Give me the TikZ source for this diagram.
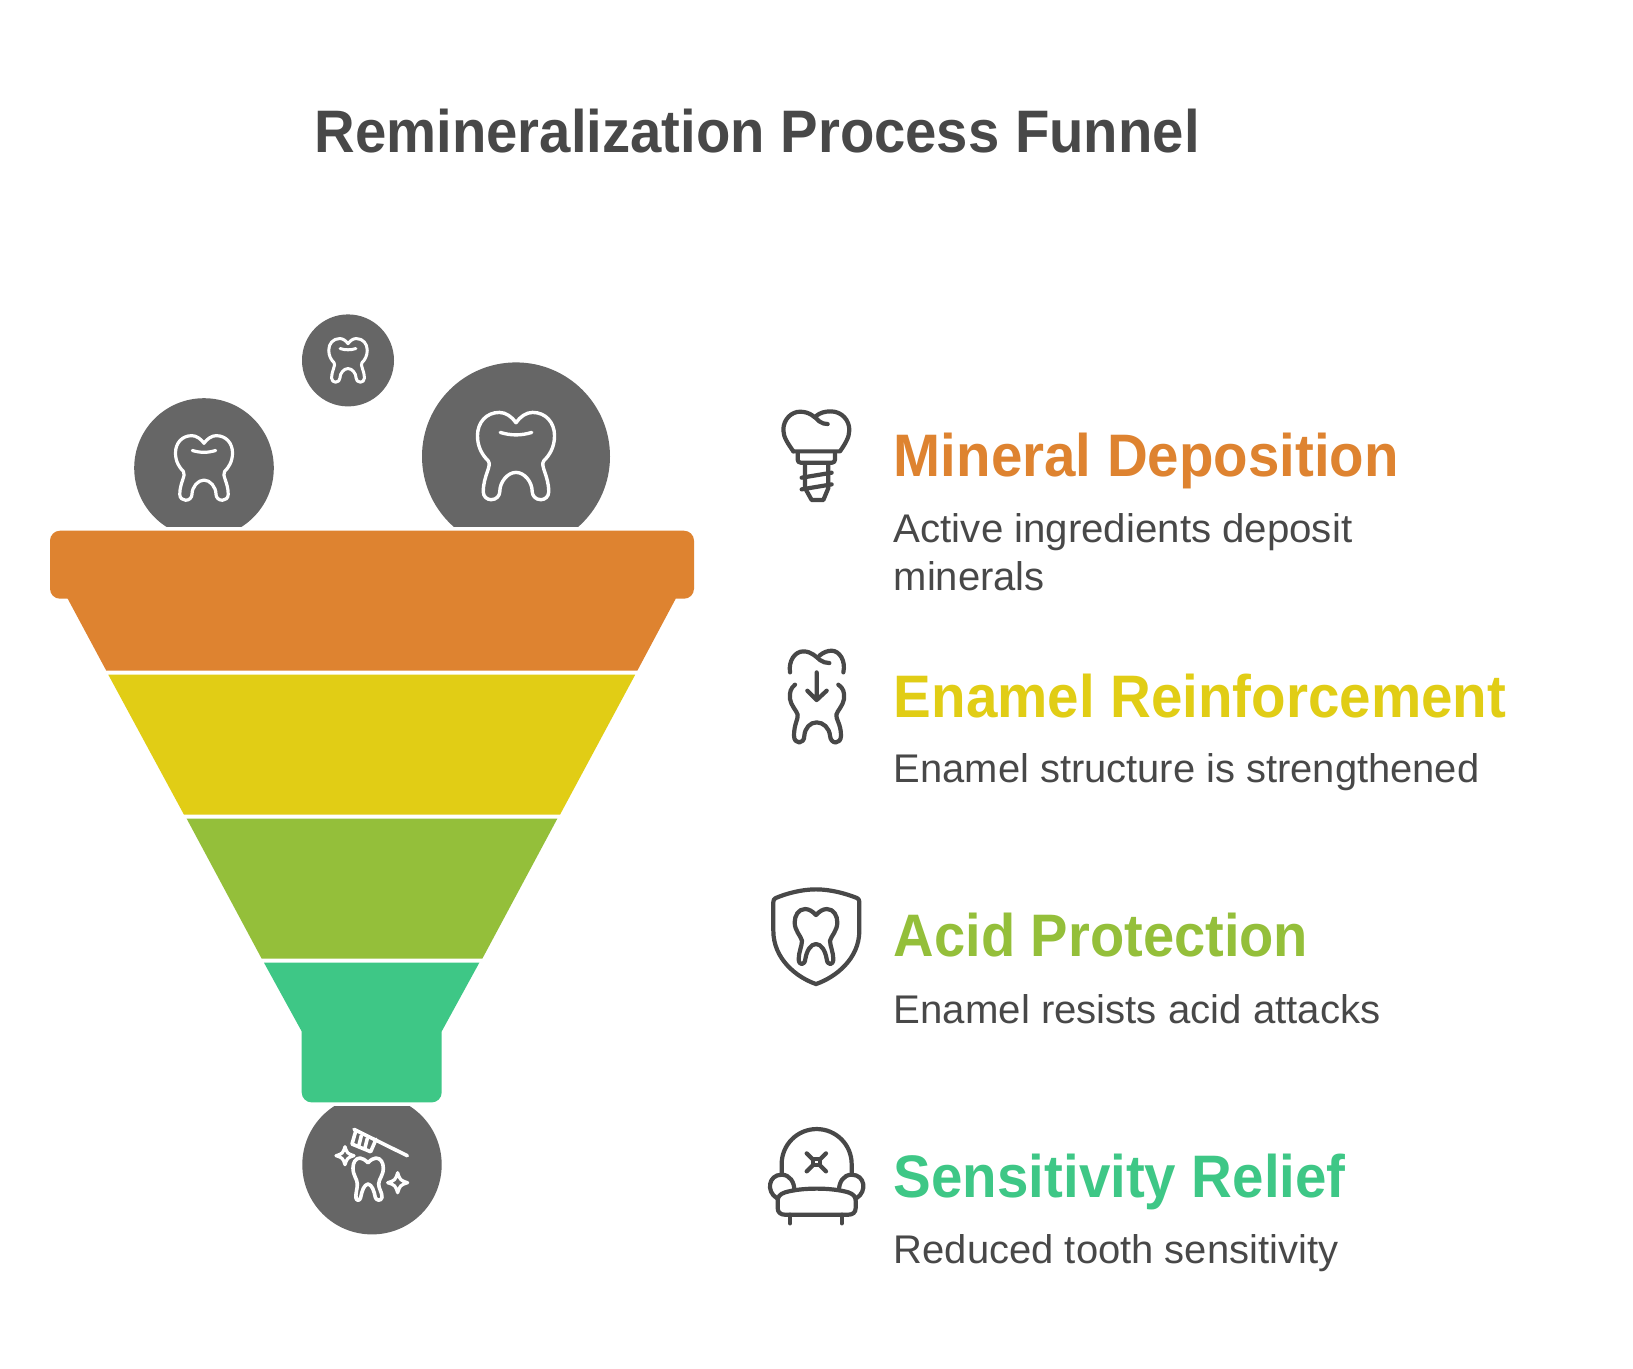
\documentclass[tikz,border=0pt]{standalone}
\usepackage{graphicx}
\usepackage{fontspec}
\setmainfont{Liberation Sans}
\definecolor{inktext}{HTML}{484848}
\definecolor{disc}{HTML}{666666}
\definecolor{cOrange}{HTML}{DE8330}
\definecolor{cYellow}{HTML}{E1CD15}
\definecolor{cGreen}{HTML}{94BF3A}
\definecolor{cTeal}{HTML}{3EC786}
\newsavebox\fitbox
\newcommand\fitto[2]{\sbox\fitbox{#2}\pgfmathsetmacro\fitr{#1/(\wd\fitbox)}\scalebox{\fitr}[1]{\usebox\fitbox}}
\newcommand\toothicon[4]{%
 \begin{scope}[shift={(#1,#2)},xscale=1.033*#3,yscale=#3]
  \draw[white,line width=#4,line cap=round,line join=round]
   (0,-33) .. controls (4,-39) and (10,-43.3) .. (16,-43.3)
   .. controls (29,-43.3) and (37.3,-33) .. (37.3,-20)
   .. controls (37.3,-8) and (32,0) .. (27,5)
   .. controls (23,10) and (31.7,20) .. (31.7,36)
   .. controls (31.7,41) and (28,44) .. (24,44)
   .. controls (19,44) and (15.7,40) .. (15.7,36)
   .. controls (15.7,26) and (8,16.7) .. (0,16.7)
   .. controls (-8,16.7) and (-15.7,26) .. (-15.7,36)
   .. controls (-15.7,40) and (-19,44) .. (-24,44)
   .. controls (-28,44) and (-31.7,41) .. (-31.7,36)
   .. controls (-31.7,20) and (-23,10) .. (-27,5)
   .. controls (-32,0) and (-37.3,-8) .. (-37.3,-20)
   .. controls (-37.3,-33) and (-29,-43.3) .. (-16,-43.3)
   .. controls (-10,-43.3) and (-4,-39) .. (0,-33) -- cycle;
  \draw[white,line width=#4,line cap=round] (-15.3,-23.3) .. controls (-5,-20) and (5,-20) .. (15.3,-23.3);
 \end{scope}}
\newcommand\sparkle[3]{%
 \draw[white,line width=3.2,line join=round] (#1,#2-#3) .. controls (#1+.25*#3,#2-.25*#3) .. (#1+#3,#2)
   .. controls (#1+.25*#3,#2+.25*#3) .. (#1,#2+#3)
   .. controls (#1-.25*#3,#2+.25*#3) .. (#1-#3,#2)
   .. controls (#1-.25*#3,#2-.25*#3) .. (#1,#2-#3) -- cycle;}
\tikzset{
 inkline/.style={draw=inktext,line width=4.2,line cap=round,line join=round},
 brushline/.style={white,line width=3.6,line cap=round,line join=round},
 heading/.style={anchor=base west,inner sep=0pt,font=\fontsize{60}{72}\selectfont\bfseries},
 bodytext/.style={anchor=base west,inner sep=0pt,text=inktext,font=\fontsize{40}{48}\selectfont},
}
\begin{document}
\begin{tikzpicture}[x=1pt,y=-1pt]
\useasboundingbox[fill=white] (0,0) rectangle (1633,1368);

\begin{scope}[shift={(0,0.7)}]
% discs
\begin{scope}
 \clip (0,0) rectangle (1633,526);
 \fill[disc] (204,467.3) circle[radius=69.8];
 \fill[disc] (516,455.7) circle[radius=94];
\end{scope}
\fill[disc] (348,359.7) circle[radius=46];
\begin{scope}
 \clip (0,1106) rectangle (1633,1368);
 \fill[disc] (372,1164) circle[radius=69.7];
\end{scope}
\toothicon{516}{455}{1}{3.4}
\toothicon{204}{467}{0.74}{3.2}
\toothicon{348}{359.5}{0.5}{3}

% funnel
\fill[cOrange] (60,530) -- (684,530) arc[start angle=-90,end angle=0,radius=10] -- (694,588) arc[start angle=0,end angle=90,radius=10]
  -- (675.7,598) -- (637.3,670) -- (106.3,670) -- (67.7,598) -- (60,598) arc[start angle=90,end angle=180,radius=10] -- (50,540) arc[start angle=180,end angle=270,radius=10] -- cycle;
\fill[cYellow] (108.3,674) -- (635.2,674) -- (560,814) -- (184,814) -- cycle;
\fill[cGreen] (186.7,818) -- (557.3,818) -- (482.3,958) -- (261.7,958) -- cycle;
\fill[cTeal] (264,962) -- (479.3,962) -- (441.7,1030.7) -- (441.7,1091.7) arc[start angle=0,end angle=90,radius=10] -- (311.7,1101.7) arc[start angle=90,end angle=180,radius=10] -- (301.7,1030.7) -- cycle;

% toothbrush icon on bottom disc
\begin{scope}[shift={(280,1080)},scale=1/3]
 \draw[brushline] (222,146) -- (382,225);
 \draw[brushline] (227,152) -- (216,190) -- (272,213) -- (288,176);
 \draw[brushline] (244,165) -- (236,197) (262,173) -- (254,205);
 \draw[brushline]
   (264,246) .. controls (255,238) and (248,232) .. (240,232)
   .. controls (226,232) and (219,246) .. (219,262)
   .. controls (219,285) and (232,295) .. (232,310)
   .. controls (232,325) and (226,340) .. (228,352)
   .. controls (230,362) and (240,360) .. (242,350)
   .. controls (246,330) and (252,312) .. (264,310)
   .. controls (276,312) and (282,330) .. (286,350)
   .. controls (288,360) and (304,362) .. (306,350)
   .. controls (307,335) and (296,325) .. (296,310)
   .. controls (296,295) and (310,285) .. (310,262)
   .. controls (310,246) and (302,232) .. (288,232)
   .. controls (280,232) and (272,238) .. (264,246) -- cycle;
 \sparkle{195}{225}{27}
 \sparkle{353}{306}{30}
\end{scope}

% implant icon
\begin{scope}[shift={(760,400)},scale=1/3]
 \draw[inkline] (100,152) .. controls (85,130) and (70,110) .. (70,88)
   .. controls (70,55) and (95,33) .. (120,33)
   .. controls (150,33) and (165,50) .. (178,62) .. controls (185,68) and (195,70) .. (203,70);
 \draw[inkline] (168,46) .. controls (180,36) and (195,32) .. (212,32)
   .. controls (245,32) and (268,58) .. (268,88)
   .. controls (268,110) and (255,130) .. (240,152) -- (100,152);
 \draw[inkline] (113,155) -- (113,176) .. controls (113,182) and (116,186) .. (122,186) -- (216,186) .. controls (222,186) and (225,182) .. (225,176) -- (225,155);
 \draw[inkline] (135,190) -- (135,262) -- (155,298) -- (190,298) -- (205,262) -- (205,190);
 \draw[inkline] (125,231) -- (215,216) (125,266) -- (215,251);
\end{scope}

% tooth with arrow icon
\begin{scope}[shift={(770,640)},scale=1/3]
 \draw[inkline] (60,95) .. controls (55,60) and (75,32) .. (100,32) .. controls (125,32) and (140,50) .. (150,58) .. controls (158,64) and (168,67) .. (178,67);
 \draw[inkline] (148,45) .. controls (160,35) and (172,30) .. (185,30) .. controls (208,30) and (228,60) .. (220,95);
 \draw[inkline] (140,95) -- (140,178) (112,150) -- (140,178) -- (170,150);
 \draw[inkline] (75,132) .. controls (62,142) and (58,155) .. (60,175) .. controls (63,195) and (80,210) .. (83,222)
   .. controls (85,235) and (72,250) .. (72,285) .. controls (72,312) and (103,312) .. (103,285)
   .. controls (105,262) and (120,245) .. (140,245) .. controls (160,245) and (178,262) .. (180,285)
   .. controls (182,312) and (213,312) .. (213,285) .. controls (213,250) and (197,235) .. (199,222)
   .. controls (202,210) and (219,195) .. (222,175) .. controls (224,155) and (220,142) .. (205,132);
\end{scope}

% shield icon
\begin{scope}[shift={(760,880)},scale=1/3]
 \draw[inkline] (168,26) .. controls (125,26) and (80,38) .. (47,52) .. controls (42,55) and (40,58) .. (40,64)
   -- (40,150) .. controls (40,235) and (110,290) .. (168,310)
   .. controls (226,290) and (298,235) .. (298,150) -- (298,64) .. controls (298,58) and (296,55) .. (291,52)
   .. controls (256,38) and (211,26) .. (168,26) -- cycle;
 \draw[inkline] (168,103) .. controls (158,92) and (147,85) .. (135,85) .. controls (115,85) and (104,105) .. (104,125)
   .. controls (104,150) and (122,165) .. (126,180) .. controls (126,195) and (116,215) .. (116,235)
   .. controls (116,255) and (134,255) .. (136,235) .. controls (140,210) and (152,190) .. (168,190)
   .. controls (184,190) and (196,210) .. (200,235) .. controls (202,255) and (220,255) .. (220,235)
   .. controls (220,215) and (210,195) .. (210,180) .. controls (214,165) and (232,150) .. (232,125)
   .. controls (232,105) and (221,85) .. (201,85) .. controls (189,85) and (178,92) .. (168,103) -- cycle;
\end{scope}

% armchair icon
\begin{scope}[shift={(760,1120)},scale=1/3]
 \draw[inkline] (65,160) -- (65,130) .. controls (65,72) and (112,25) .. (170,25) .. controls (228,25) and (275,72) .. (275,130) -- (275,160);
 \draw[inkline] (50,232) .. controls (18,212) and (25,162) .. (65,162) .. controls (90,162) and (103,185) .. (103,208);
 \draw[inkline] (290,232) .. controls (322,212) and (315,162) .. (275,162) .. controls (250,162) and (237,185) .. (237,208);
 \draw[inkline] (75,215) .. controls (125,200) and (215,200) .. (265,215) .. controls (280,220) and (287,228) .. (287,240)
   -- (287,262) .. controls (287,275) and (278,282) .. (265,282) -- (75,282) .. controls (62,282) and (53,275) .. (53,262) -- (53,240) .. controls (53,228) and (60,220) .. (75,215) -- cycle;
 \draw[inkline] (90,282) -- (90,308) (245,282) -- (245,308);
 \draw[inkline] (140,98) -- (158,116) (198,98) -- (180,116) (140,152) -- (158,134) (198,152) -- (180,134);
 \draw[inkline] (158,116) -- (180,116) -- (180,134) -- (158,134) -- cycle;
\end{scope}
\end{scope}

% text
\node[heading,text=inktext] (title) at (314.5,152.7) {\fitto{885}{Remineralization Process Funnel}};

\node[heading,text=cOrange] (h1) at (893.6,476.6) {\fitto{505}{Mineral Deposition}};
\node[bodytext] (d1a) at (893.6,542.8) {\fitto{458.5}{Active ingredients deposit}};
\node[bodytext] (d1b) at (893.6,590.7) {\fitto{151}{minerals}};

\node[heading,text=cYellow] (h2) at (893.6,717.2) {\fitto{612.5}{Enamel Reinforcement}};
\node[bodytext] (d2) at (893.6,782.2) {\fitto{585.5}{Enamel structure is strengthened}};

\node[heading,text=cGreen] (h3) at (893.6,956.6) {\fitto{414.5}{Acid Protection}};
\node[bodytext] (d3) at (893.6,1023) {\fitto{486.5}{Enamel resists acid attacks}};

\node[heading,text=cTeal] (h4) at (893.6,1197.6) {\fitto{452}{Sensitivity Relief}};
\node[bodytext] (d4) at (893.6,1263) {\fitto{444.5}{Reduced tooth sensitivity}};
\end{tikzpicture}
\end{document}
